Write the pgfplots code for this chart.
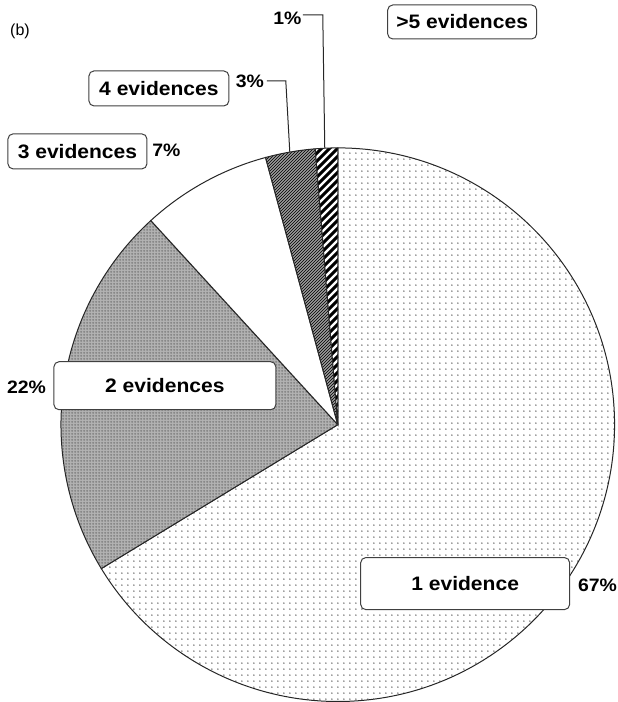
\documentclass[border=0pt]{standalone}
\usepackage{pgfplots}
\pgfplotsset{compat=1.18}
\usepackage{pgfplotstable}
\usepackage{fontspec}
\setmainfont{Liberation Sans}
\newfontfamily\lblfont{Liberation Sans}[FakeStretch=1.08]
\usetikzlibrary{patterns}

% slice shares (percent), clockwise from 12 o'clock
\pgfplotstableread{
share sty
66.3 sone
21.9 stwo
7.6 sthree
2.9 sfour
1.3 sfive
}\piedata

% pie patterns
\pgfdeclarepatternformonly{sparsedots}{\pgfqpoint{0pt}{0pt}}{\pgfqpoint{6.4pt}{6.4pt}}{\pgfqpoint{6.4pt}{6.4pt}}{%
  \pgfpathcircle{\pgfqpoint{3.2pt}{3.2pt}}{0.95pt}\pgfusepath{fill}}
\pgfdeclarepatternformonly{finegrid}{\pgfqpoint{0pt}{0pt}}{\pgfqpoint{2.5pt}{2.5pt}}{\pgfqpoint{2.5pt}{2.5pt}}{%
  \pgfsetlinewidth{0.6pt}
  \pgfpathmoveto{\pgfqpoint{0pt}{1.25pt}}\pgfpathlineto{\pgfqpoint{2.5pt}{1.25pt}}
  \pgfpathmoveto{\pgfqpoint{1.25pt}{0pt}}\pgfpathlineto{\pgfqpoint{1.25pt}{2.5pt}}
  \pgfusepath{stroke}}
\pgfdeclarepatternformonly{finediag}{\pgfqpoint{0pt}{0pt}}{\pgfqpoint{3pt}{3pt}}{\pgfqpoint{3pt}{3pt}}{%
  \pgfsetlinewidth{1.2pt}
  \pgfpathmoveto{\pgfqpoint{-1pt}{-1pt}}\pgfpathlineto{\pgfqpoint{4pt}{4pt}}
  \pgfpathmoveto{\pgfqpoint{-1pt}{2pt}}\pgfpathlineto{\pgfqpoint{1pt}{4pt}}
  \pgfpathmoveto{\pgfqpoint{2pt}{-1pt}}\pgfpathlineto{\pgfqpoint{4pt}{1pt}}
  \pgfusepath{stroke}}
\pgfdeclarepatternformonly{widediag}{\pgfqpoint{0pt}{0pt}}{\pgfqpoint{8pt}{8pt}}{\pgfqpoint{8pt}{8pt}}{%
  \pgfsetlinewidth{3pt}
  \pgfpathmoveto{\pgfqpoint{-1pt}{-1pt}}\pgfpathlineto{\pgfqpoint{9pt}{9pt}}
  \pgfpathmoveto{\pgfqpoint{-4pt}{4pt}}\pgfpathlineto{\pgfqpoint{4pt}{12pt}}
  \pgfpathmoveto{\pgfqpoint{4pt}{-4pt}}\pgfpathlineto{\pgfqpoint{12pt}{4pt}}
  \pgfusepath{stroke}}

\tikzset{
  sone/.style={pattern=sparsedots, pattern color=black!50},
  stwo/.style={preaction={fill=black!30}, pattern=finegrid, pattern color=black!55},
  sthree/.style={fill=white},
  sfour/.style={preaction={fill=white}, pattern=finediag, pattern color=black!90},
  sfive/.style={preaction={fill=white}, pattern=widediag, pattern color=black},
  box/.style={draw=black!75, line width=1pt, rounded corners=5pt, fill=white,
    inner sep=0pt, font=\lblfont\bfseries\fontsize{19.5}{20}\selectfont},
  pct/.style={inner sep=0pt, font=\lblfont\bfseries\fontsize{18}{19}\selectfont},
  lead/.style={draw=black!85, line width=1pt},
}

\begin{document}
\begin{tikzpicture}
\begin{axis}[
    scale only axis,
    width=618pt, height=702pt,
    xmin=0, xmax=618, ymin=0, ymax=702,
    hide axis,
    clip=false,
]
\path (axis cs:0,0) rectangle (axis cs:618,702);

\pgfmathsetmacro\start{90}
\pgfplotsforeachungrouped \i in {0,...,4}{
  \pgfplotstablegetelem{\i}{share}\of\piedata \let\v\pgfplotsretval
  \pgfplotstablegetelem{\i}{sty}\of\piedata \let\s\pgfplotsretval
  \pgfmathsetmacro\stop{\start-3.6*\v}
  \edef\tmp{\noexpand\draw[\s, draw=black!85, line width=1pt]
    (axis cs:338,277) -- ++(\start:277pt)
    arc[start angle=\start, end angle=\stop, radius=277pt] -- cycle;}
  \tmp
  \global\let\start\stop
}

% leader lines
\draw[lead] (axis cs:303,687) -- (axis cs:323,687) -- (axis cs:325,553.7);
\draw[lead] (axis cs:267,621) -- (axis cs:286,621) -- (axis cs:290,549.8);

% category boxes
\node[box, minimum width=149pt, minimum height=34pt] at (axis cs:462.5,680) {>5 evidences};
\node[box, minimum width=140pt, minimum height=35pt] at (axis cs:159,613.5) {4 evidences};
\node[box, minimum width=139pt, minimum height=35pt] at (axis cs:77.5,550.5) {3 evidences};
\node[box, minimum width=222pt, minimum height=48pt] at (axis cs:165,316) {2 evidences};
\node[box, minimum width=209pt, minimum height=52pt] at (axis cs:465.5,118) {1 evidence};

% percentages
\node[pct] at (axis cs:287.5,683.5) {1\%};
\node[pct] at (axis cs:250,620.5) {3\%};
\node[pct] at (axis cs:166.5,552) {7\%};
\node[pct] at (axis cs:26.5,314.5) {22\%};
\node[pct] at (axis cs:598,116.5) {67\%};

\node[inner sep=0pt, font=\fontsize{16}{17}\selectfont] at (axis cs:20,671) {(b)};
\end{axis}
\end{tikzpicture}
\end{document}
